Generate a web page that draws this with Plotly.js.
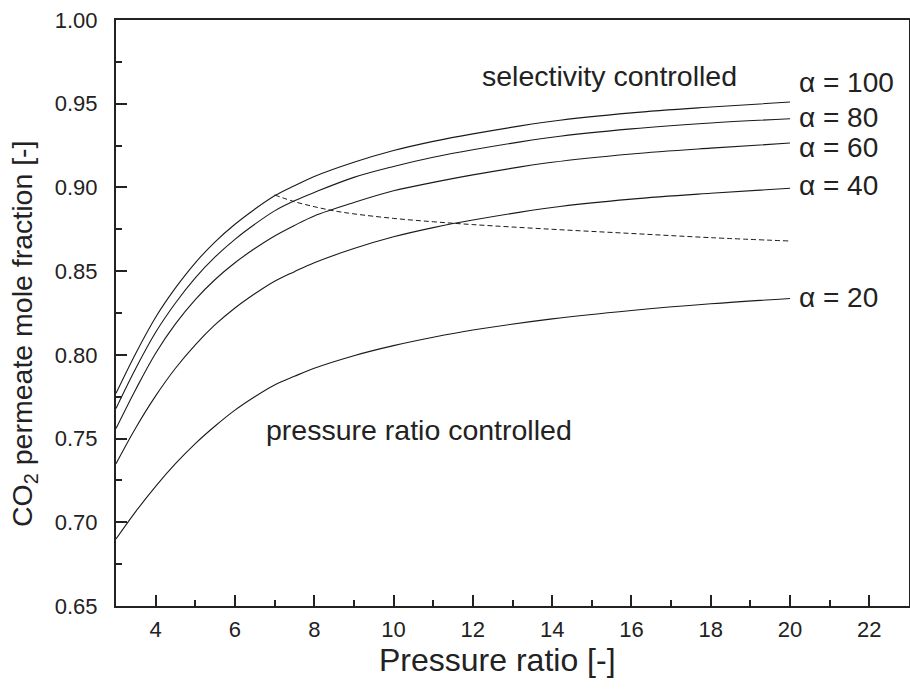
<!DOCTYPE html>
<html>
<head>
<meta charset="utf-8">
<script src="https://cdn.plot.ly/plotly-3.0.1.min.js"></script>
<style>html,body{margin:0;padding:0;background:#fff;}#chart{width:910px;height:691px;}</style>
</head>
<body>
<div id="chart"></div>
<script>
// Pressure ratio values (x) for the selectivity curves
const pressureRatio = [3, 3.5, 4, 4.5, 5, 5.5, 6, 6.5, 7, 7.5, 8, 9, 10, 11, 12, 14, 16, 18, 20];
// CO2 permeate mole fraction for each selectivity alpha
const alpha100 = [0.777, 0.801, 0.8225, 0.840, 0.855, 0.8675, 0.878, 0.887, 0.895, 0.901, 0.9065, 0.915, 0.922, 0.9275, 0.932, 0.9395, 0.9445, 0.948, 0.951];
const alpha80  = [0.768, 0.792, 0.8135, 0.831, 0.846, 0.8585, 0.869, 0.878, 0.886, 0.892, 0.897, 0.906, 0.9125, 0.918, 0.9225, 0.930, 0.935, 0.9385, 0.941];
const alpha60  = [0.756, 0.7795, 0.801, 0.8185, 0.833, 0.845, 0.855, 0.8635, 0.871, 0.8773, 0.883, 0.891, 0.898, 0.903, 0.9075, 0.915, 0.920, 0.9235, 0.9265];
const alpha40  = [0.735, 0.7565, 0.7755, 0.792, 0.806, 0.818, 0.828, 0.8365, 0.844, 0.8497, 0.855, 0.8635, 0.8705, 0.876, 0.8805, 0.888, 0.893, 0.8965, 0.8995];
const alpha20  = [0.690, 0.7065, 0.7215, 0.735, 0.747, 0.7575, 0.767, 0.775, 0.782, 0.7872, 0.792, 0.7995, 0.8055, 0.8105, 0.8148, 0.8215, 0.8265, 0.8305, 0.8337];
// Boundary between pressure-ratio- and selectivity-controlled regions (dashed)
const boundaryX = [7, 7.5, 8, 8.5, 9, 10, 11, 12, 14, 16, 18, 20];
const boundaryY = [0.8955, 0.8915, 0.8885, 0.886, 0.8842, 0.8815, 0.8795, 0.8778, 0.875, 0.8725, 0.870, 0.868];
// Labels
const curveLabels = ["α = 100", "α = 80", "α = 60", "α = 40", "α = 20"];
const curveLabelY = [0.9626, 0.942, 0.924, 0.9013, 0.8343];
const xTicks = [4, 6, 8, 10, 12, 14, 16, 18, 20, 22];
const yTicks = [0.65, 0.70, 0.75, 0.80, 0.85, 0.90, 0.95, 1.00];
const xTitle = 'Pressure ratio [-]';
const yTitle = 'CO<sub>2</sub> permeate mole fraction [-]';

const series = [alpha100, alpha80, alpha60, alpha40, alpha20];
const lineColor = '#1a1a1a';
const textColor = '#222222';
const FONT = 'Liberation Sans, Arial, Helvetica, sans-serif';

const traces = series.map((ys, i) => ({
  x: pressureRatio, y: ys, type: 'scatter', mode: 'lines',
  line: {color: lineColor, width: 1.1, shape: 'spline', smoothing: 1},
  name: curveLabels[i], showlegend: false, hoverinfo: 'skip'
}));
traces.push({
  x: boundaryX, y: boundaryY, type: 'scatter', mode: 'lines',
  line: {color: lineColor, width: 1, dash: '5px,3px', shape: 'spline', smoothing: 1},
  showlegend: false, hoverinfo: 'skip'
});

const annotations = curveLabels.map((t, i) => ({
  x: 20.18, y: curveLabelY[i], xref: 'x', yref: 'y', text: t, showarrow: false,
  xanchor: 'left', yanchor: 'middle', font: {family: FONT, size: 28, color: textColor}
}));
annotations.push({x: 12.18, y: 0.9666, xref: 'x', yref: 'y', text: 'selectivity controlled', showarrow: false,
  xanchor: 'left', yanchor: 'middle', font: {family: FONT, size: 28.5, color: textColor}});
annotations.push({x: 6.72, y: 0.755, xref: 'x', yref: 'y', text: 'pressure ratio controlled', showarrow: false,
  xanchor: 'left', yanchor: 'middle', font: {family: FONT, size: 28.5, color: textColor}});
// axis titles
annotations.push({x: (497 - 116) / 793, y: (606 - 660) / 586, xref: 'paper', yref: 'paper', text: xTitle, showarrow: false,
  xanchor: 'center', yanchor: 'middle', font: {family: FONT, size: 32, color: textColor}});
annotations.push({x: (24 - 116) / 793, y: (606 - 334) / 586, xref: 'paper', yref: 'paper', text: yTitle, showarrow: false,
  textangle: -90, xanchor: 'center', yanchor: 'middle', font: {family: FONT, size: 28.5, color: textColor}});

const layout = {
  width: 910, height: 691,
  margin: {l: 116, r: 1, t: 20, b: 85},
  paper_bgcolor: '#ffffff', plot_bgcolor: 'rgba(0,0,0,0)',
  font: {family: FONT, color: textColor},
  showlegend: false,
  xaxis: {
    range: [3, 23], tickmode: 'array', tickvals: xTicks, ticktext: xTicks.map(String),
    ticks: 'inside', ticklen: 11, tickwidth: 2, tickcolor: textColor,
    minor: {dtick: 1, tick0: 3, ticks: 'inside', ticklen: 6, tickwidth: 2, tickcolor: textColor, showgrid: false},
    showline: true, linewidth: 2, linecolor: textColor, mirror: true,
    showgrid: false, zeroline: false,
    tickfont: {family: FONT, size: 22, color: textColor},
    ticklabelstandoff: 3
  },
  yaxis: {
    range: [0.65, 1.00], tickmode: 'array', tickvals: yTicks, ticktext: yTicks.map(v => v.toFixed(2)),
    ticks: 'inside', ticklen: 11, tickwidth: 2, tickcolor: textColor,
    minor: {dtick: 0.025, tick0: 0.65, ticks: 'inside', ticklen: 6, tickwidth: 2, tickcolor: textColor, showgrid: false},
    showline: true, linewidth: 2, linecolor: textColor, mirror: true,
    showgrid: false, zeroline: false,
    tickfont: {family: FONT, size: 22, color: textColor},
    ticklabelstandoff: 12
  },
  annotations: annotations
};

Plotly.newPlot('chart', traces, layout, {staticPlot: true, displayModeBar: false});
</script>
</body>
</html>
